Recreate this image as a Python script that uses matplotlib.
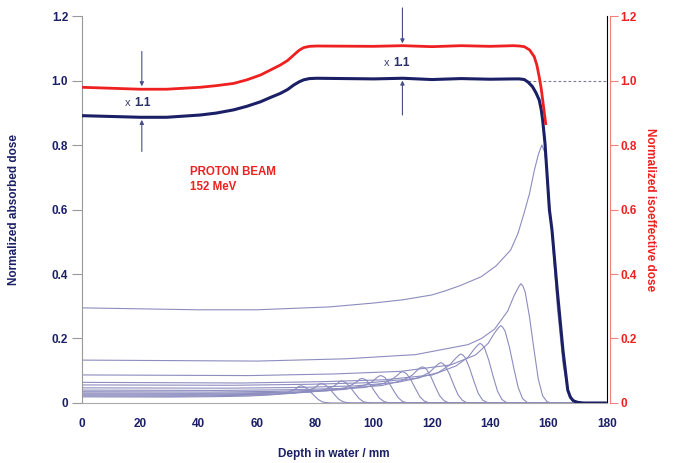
import matplotlib.pyplot as plt

plt.rcParams['font.family'] = ['Liberation Sans', 'DejaVu Sans']
plt.rcParams['font.weight'] = 'bold'
plt.rcParams['axes.labelweight'] = 'bold'

navy = "#1b1f66"
red = "#ee2020"
thin = "#8c8cbf"

# spread-out Bragg peak, absorbed dose
sobp_depth = [0, 20, 29, 40.5, 46, 52, 56.5, 61.2, 64.5, 68, 70.5, 72.6, 74.5, 76, 78, 80.6,
              100, 110, 120, 130, 140, 148, 150, 151.7, 153, 154.5, 155.7, 156.8, 157.5,
              158, 158.8, 160.3, 161.2, 163, 165, 166.6, 167.5, 168.5, 170, 172, 180]
sobp_dose = [0.891, 0.886, 0.886, 0.893, 0.899, 0.909, 0.920, 0.934, 0.947, 0.960, 0.972,
             0.986, 0.996, 1.002, 1.006, 1.007, 1.005, 1.007, 1.003, 1.006, 1.004, 1.005,
             1.005, 1.003, 0.995, 0.981, 0.962, 0.940, 0.910, 0.877, 0.805, 0.600, 0.536,
             0.350, 0.160, 0.040, 0.018, 0.007, 0.002, 0.0, 0.0]

# isoeffective dose
iso_depth = [0, 20, 29, 40.5, 46, 52, 56.5, 61.2, 64.5, 68, 70.5, 72.6, 74.5, 76, 78, 80.6,
             100, 110, 120, 130, 140, 148, 150, 151.7, 153.5, 155.1, 156, 156.8, 157.5,
             158, 159.1]
iso_dose = [0.979, 0.973, 0.973, 0.979, 0.984, 0.991, 1.002, 1.017, 1.032, 1.048, 1.062,
            1.079, 1.094, 1.102, 1.106, 1.107, 1.106, 1.108, 1.105, 1.108, 1.106, 1.108,
            1.107, 1.105, 1.095, 1.074, 1.048, 1.012, 0.975, 0.940, 0.862]

# pristine Bragg peaks, deepest first
pristine_depth = [
    [0, 20, 40, 60, 85, 100, 110, 120, 125, 130, 137, 142, 147, 149.5, 151.6, 153.5, 155.1,
     156.5, 157.7, 158.6, 159.5, 161.2, 163, 165, 166.6, 168, 170, 180],
    [0, 60.2, 90.3, 114.4, 132.4, 137, 141.5, 146, 148.2, 149.7, 150.5, 151.2, 152, 153.5, 155, 156.5, 158, 159.5, 161, 180],
    [0, 57.4, 86.2, 109.1, 126.4, 135, 139.3, 141.4, 142.8, 143.6, 144.3, 145.1, 146.6, 148.1, 149.6, 151.1, 152.6, 154.1, 180],
    [0, 54.6, 81.9, 103.7, 120.1, 128.3, 132.4, 134.5, 135.7, 136.5, 137.2, 138, 139.5, 141, 142.5, 144, 145.5, 147, 180],
    [0, 52, 77.9, 98.7, 114.3, 122.1, 126, 128, 129.1, 129.9, 130.6, 131.4, 132.9, 134.4, 135.9, 137.4, 138.9, 140.4, 180],
    [0, 49.2, 73.8, 93.5, 108.2, 115.6, 119.3, 121.2, 122.2, 123, 123.7, 124.5, 126, 127.5, 129, 130.5, 132, 133.5, 180],
    [0, 46.7, 70, 88.7, 102.7, 109.7, 113.2, 114.9, 115.9, 116.7, 117.4, 118.2, 119.7, 121.2, 122.7, 124.2, 125.7, 127.2, 180],
    [0, 44, 65.9, 83.5, 96.7, 103.3, 106.6, 108.3, 109.1, 109.9, 110.6, 111.4, 112.9, 114.4, 115.9, 117.4, 118.9, 120.4, 180],
    [0, 41, 61.4, 77.8, 90.1, 96.3, 99.3, 100.9, 101.6, 102.4, 103.1, 103.9, 105.4, 106.9, 108.4, 109.9, 111.4, 112.9, 180],
    [0, 38.4, 57.6, 73, 84.5, 90.2, 93.1, 94.6, 95.2, 96, 96.7, 97.5, 99, 100.5, 102, 103.5, 105, 106.5, 180],
    [0, 35.6, 53.4, 67.6, 78.3, 83.7, 86.3, 87.7, 88.2, 89, 89.7, 90.5, 92, 93.5, 95, 96.5, 98, 99.5, 180],
    [0, 32.8, 49.2, 62.3, 72.2, 77.1, 79.5, 80.8, 81.2, 82, 82.7, 83.5, 85, 86.5, 88, 89.5, 91, 92.5, 180],
    [0, 30, 45, 57, 66, 70.5, 72.8, 73.9, 74.2, 75, 75.7, 76.5, 78, 79.5, 81, 82.5, 84, 85.5, 180],
]
pristine_dose = [
    [0.295, 0.292, 0.289, 0.289, 0.298, 0.31, 0.32, 0.335, 0.349, 0.365, 0.392, 0.425, 0.474,
     0.525, 0.588, 0.65, 0.72, 0.77, 0.80, 0.78, 0.72, 0.52, 0.30, 0.12, 0.04, 0.01, 0.0, 0.0],
    [0.133, 0.130, 0.137, 0.150, 0.181, 0.200, 0.229, 0.285, 0.333, 0.359, 0.370, 0.363, 0.344, 0.266, 0.167, 0.074, 0.022, 0.004, 0, 0],
    [0.087, 0.085, 0.090, 0.098, 0.118, 0.149, 0.185, 0.216, 0.233, 0.240, 0.235, 0.223, 0.173, 0.108, 0.048, 0.014, 0.002, 0, 0],
    [0.064, 0.062, 0.066, 0.072, 0.087, 0.115, 0.142, 0.167, 0.179, 0.185, 0.181, 0.172, 0.133, 0.083, 0.037, 0.011, 0.002, 0, 0],
    [0.056, 0.055, 0.058, 0.063, 0.076, 0.094, 0.117, 0.137, 0.147, 0.152, 0.149, 0.141, 0.109, 0.068, 0.030, 0.009, 0.002, 0, 0],
    [0.047, 0.046, 0.048, 0.053, 0.064, 0.078, 0.096, 0.113, 0.121, 0.125, 0.1225, 0.116, 0.090, 0.056, 0.025, 0.008, 0.001, 0, 0],
    [0.040, 0.039, 0.041, 0.045, 0.054, 0.069, 0.086, 0.101, 0.109, 0.112, 0.110, 0.104, 0.081, 0.050, 0.022, 0.007, 0.001, 0, 0],
    [0.035, 0.034, 0.036, 0.040, 0.048, 0.060, 0.075, 0.087, 0.094, 0.097, 0.095, 0.090, 0.070, 0.044, 0.019, 0.006, 0.001, 0, 0],
    [0.031, 0.030, 0.032, 0.035, 0.042, 0.053, 0.065, 0.077, 0.082, 0.085, 0.083, 0.079, 0.061, 0.038, 0.017, 0.005, 0.001, 0, 0],
    [0.028, 0.027, 0.029, 0.032, 0.038, 0.047, 0.059, 0.068, 0.074, 0.076, 0.0745, 0.071, 0.055, 0.034, 0.015, 0.005, 0.001, 0, 0],
    [0.025, 0.024, 0.026, 0.028, 0.034, 0.042, 0.052, 0.061, 0.066, 0.068, 0.0666, 0.063, 0.049, 0.031, 0.014, 0.004, 0.001, 0, 0],
    [0.022, 0.021, 0.023, 0.025, 0.030, 0.037, 0.046, 0.054, 0.058, 0.060, 0.0588, 0.056, 0.043, 0.027, 0.012, 0.004, 0.001, 0, 0],
    [0.019, 0.0185, 0.0196, 0.0215, 0.026, 0.033, 0.041, 0.048, 0.0514, 0.053, 0.052, 0.049, 0.038, 0.024, 0.011, 0.003, 0.001, 0, 0],
]

x_ticks = [0, 20, 40, 60, 80, 100, 120, 140, 160, 180]
y_ticks = [0, 0.2, 0.4, 0.6, 0.8, 1.0, 1.2]
y_ticklabels = ["0", "0.2", "0.4", "0.6", "0.8", "1.0", "1.2"]

fig = plt.figure(figsize=(6.78, 4.63), dpi=100)
ax = fig.add_axes([0.121, 0.1296, 0.774, 0.8358])
ax2 = ax.twinx()

for d, v in zip(pristine_depth, pristine_dose):
    ax.plot(d, v, color=thin, lw=0.8, zorder=2)

ax.plot(sobp_depth, sobp_dose, color=navy, lw=2.2, zorder=4, solid_capstyle="butt")
ax2.plot(iso_depth, iso_dose, color=red, lw=2.0, zorder=4, solid_capstyle="butt")

# reference level
ax.plot([152.8, 180], [1.0, 1.0], color="#7a7a9a", lw=0.8, ls=(0, (2.5, 2)), zorder=1)

for a in (ax, ax2):
    a.set_xlim(0, 180)
    a.set_ylim(0, 1.2)

ax.set_xticks(x_ticks)
ax.set_yticks(y_ticks)
ax.set_yticklabels(y_ticklabels)
ax2.set_yticks(y_ticks)
ax2.set_yticklabels(y_ticklabels)

ax.tick_params(axis="x", length=0, pad=11, labelsize=8.5, labelcolor=navy)
ax.tick_params(axis="y", length=7, width=0.8, color="#999999", pad=3,
               labelsize=8.5, labelcolor=navy)
ax2.tick_params(axis="y", length=6, width=0.8, color="#f08080", pad=2,
                labelsize=8.5, labelcolor=red)

for a in (ax, ax2):
    a.spines["top"].set_visible(False)
ax.spines["left"].set_color("#999999")
ax.spines["bottom"].set_color("#aaaaaa")
ax2.spines["left"].set_visible(False)
ax2.spines["bottom"].set_visible(False)
ax2.spines["right"].set_color("#f08080")
ax2.spines["right"].set_position(("outward", 2))

ax.set_xlabel("Depth in water / mm", fontsize=8.5, fontweight="bold", color=navy)
ax.xaxis.set_label_coords(0.479, -0.117)
ax.set_ylabel("Normalized absorbed dose", fontsize=8.5, fontweight="bold", color=navy)
ax.yaxis.set_label_coords(-0.118, 0.5)
ax2.set_ylabel("Normalized isoeffective dose", fontsize=8.5, fontweight="bold",
               color=red, rotation=270)
ax2.yaxis.set_label_coords(1.094, 0.5)

# x 1.1 arrows
arrow = dict(arrowstyle="-|>", color="#4a4f88", lw=0.8, mutation_scale=6,
             shrinkA=0, shrinkB=0)
ax.annotate("", xy=(20.5, 0.982), xytext=(20.5, 1.09), arrowprops=arrow,
            annotation_clip=False)
ax.annotate("", xy=(20.5, 0.878), xytext=(20.5, 0.78), arrowprops=arrow,
            annotation_clip=False)
ax.annotate("", xy=(109.9, 1.115), xytext=(109.9, 1.225), arrowprops=arrow,
            annotation_clip=False)
ax.annotate("", xy=(109.9, 1.0), xytext=(109.9, 0.893), arrowprops=arrow,
            annotation_clip=False)

for xt, yt in [(14.8, 0.930), (103.5, 1.054)]:
    ax.text(xt, yt, "x", fontsize=8, fontweight="normal", color="#3a3f70",
            va="center", ha="left")
    ax.text(xt + 3.2, yt, "1.1", fontsize=8.5, color="#2a2f66",
            va="center", ha="left")

ax.text(37, 0.716, "PROTON BEAM", fontsize=8.3, color=red, va="center", ha="left")
ax.text(37, 0.670, "152 MeV", fontsize=8.3, color=red, va="center", ha="left")

fig.savefig("out.png", dpi=100)
